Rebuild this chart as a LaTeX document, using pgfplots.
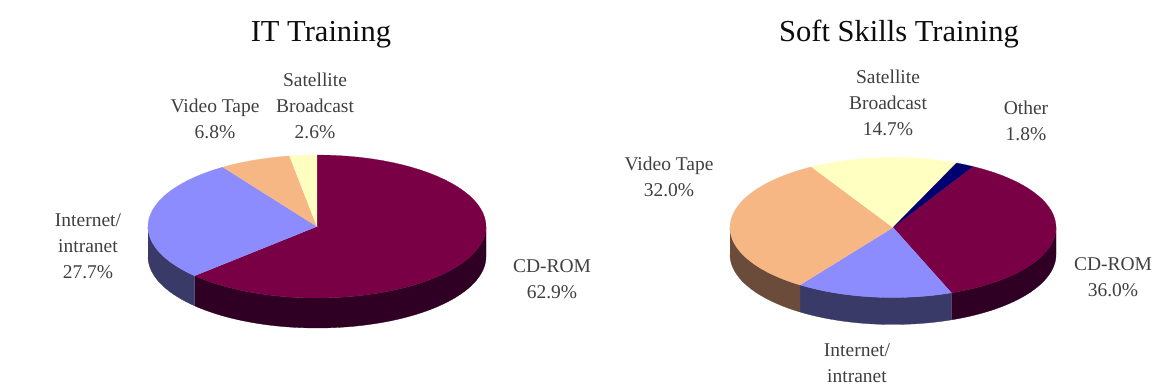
\documentclass[border=0pt]{standalone}
\usepackage{pgfplots}
\pgfplotsset{compat=1.18}
\usepackage{fontspec}
\setmainfont{Liberation Serif}

\definecolor{cdrom}{HTML}{7A0046}
\definecolor{cdromside}{HTML}{2F0023}
\definecolor{inet}{HTML}{8C8CFF}
\definecolor{inetside}{HTML}{3A3A68}
\definecolor{video}{HTML}{F7B785}
\definecolor{videoside}{HTML}{6B4B3A}
\definecolor{sat}{HTML}{FFFFC2}
\definecolor{other}{HTML}{000070}

\tikzset{
  lab/.style={align=center, inner sep=0pt, text=black!75,
    font=\fontsize{19.5}{26}\selectfont},
  ttl/.style={inner sep=0pt, text=black!95, font=\fontsize{30.5}{34}\selectfont}}

% Geometry of the current pie: centre, radii and rim depth, in pixel units.
\newcommand\setpie[6]{%
  \gdef\pcx{#1}\gdef\pcy{#2}\gdef\prx{#3}\gdef\pry{#4}\gdef\pdepth{#5}\gdef\pangle{#6}}

% Appends an elliptical arc from angle #1 to angle #2, lowered by #3, to \ptlist.
\newcommand\apparc[3]{%
  \foreach \i in {0,...,60}{%
    \pgfmathsetmacro\tt{#1+(#2-(#1))*\i/60}%
    \pgfmathsetmacro\xx{\pcx+\prx*cos(\tt)}%
    \pgfmathsetmacro\yy{\pcy-\pry*sin(\tt)+#3}%
    \xdef\ptlist{\ptlist (\xx,\yy)}%
  }}

% Rim of a slice: the part of the arc facing the viewer.
\newcommand\rim[3]{%
  \pgfmathsetmacro\lo{max(#2,-180)}%
  \pgfmathsetmacro\hi{min(#1,0)}%
  \pgfmathparse{\lo<\hi ? 1 : 0}%
  \ifnum\pgfmathresult>0
    \gdef\ptlist{}%
    \apparc{\lo}{\hi}{0}%
    \apparc{\hi}{\lo}{\pdepth}%
    \edef\cmd{\noexpand\addplot[fill=#3,draw=#3,line width=0.3pt,forget plot] coordinates {\ptlist};}%
    \cmd
  \fi}

% Top face of a slice of #1 percent, running clockwise from the current angle.
\newcommand\slice[2]{%
  \pgfmathsetmacro\sa{\pangle}%
  \pgfmathsetmacro\sb{\pangle-3.6*#1}%
  \xdef\ptlist{(\pcx,\pcy)}%
  \apparc{\sa}{\sb}{0}%
  \edef\cmd{\noexpand\addplot[fill=#2,draw=#2,line width=0.2pt,forget plot] coordinates {\ptlist};}%
  \cmd
  \xdef\pangle{\sb}}

% Slice with its rim: percent, top colour, rim colour.
\newcommand\sliceside[3]{%
  \pgfmathsetmacro\sa{\pangle}%
  \pgfmathsetmacro\sb{\pangle-3.6*#1}%
  \rim{\sa}{\sb}{#3}%
  \slice{#1}{#2}}

\begin{document}
\begin{tikzpicture}
\begin{axis}[
  scale only axis, width=1152pt, height=388pt,
  xmin=0, xmax=1152, ymin=0, ymax=388, y dir=reverse,
  hide axis, clip=false]

% IT Training
\setpie{317}{226.5}{169}{71.5}{30}{90}
\sliceside{62.9}{cdrom}{cdromside}
\sliceside{27.7}{inet}{inetside}
\sliceside{6.8}{video}{videoside}
\sliceside{2.6}{sat}{sat}

% Soft Skills Training
\setpie{893}{227.5}{163}{70}{27}{60.6}
\sliceside{36.0}{cdrom}{cdromside}
\sliceside{15.5}{inet}{inetside}
\sliceside{32.0}{video}{videoside}
\sliceside{14.7}{sat}{sat}
\sliceside{1.8}{other}{other}

\node[ttl] at (axis cs:321,35) {IT Training};
\node[ttl] at (axis cs:899,34) {Soft Skills Training};

\node[lab] at (axis cs:315,106) {Satellite\\Broadcast\\2.6\%};
\node[lab] at (axis cs:215,119) {Video Tape\\6.8\%};
\node[lab] at (axis cs:88,246) {Internet/\\intranet\\27.7\%};
\node[lab] at (axis cs:552,279) {CD-ROM\\62.9\%};

\node[lab] at (axis cs:888,103) {Satellite\\Broadcast\\14.7\%};
\node[lab] at (axis cs:1026,121) {Other\\1.8\%};
\node[lab] at (axis cs:669,177) {Video Tape\\32.0\%};
\node[lab] at (axis cs:1113,277) {CD-ROM\\36.0\%};
\node[lab] at (axis cs:857,363) {Internet/\\intranet};

\coordinate (pagenw) at (axis cs:0,0);
\coordinate (pagese) at (axis cs:1152,388);
\end{axis}
\pgfresetboundingbox
\useasboundingbox (pagenw) rectangle (pagese);
\end{tikzpicture}
\end{document}
